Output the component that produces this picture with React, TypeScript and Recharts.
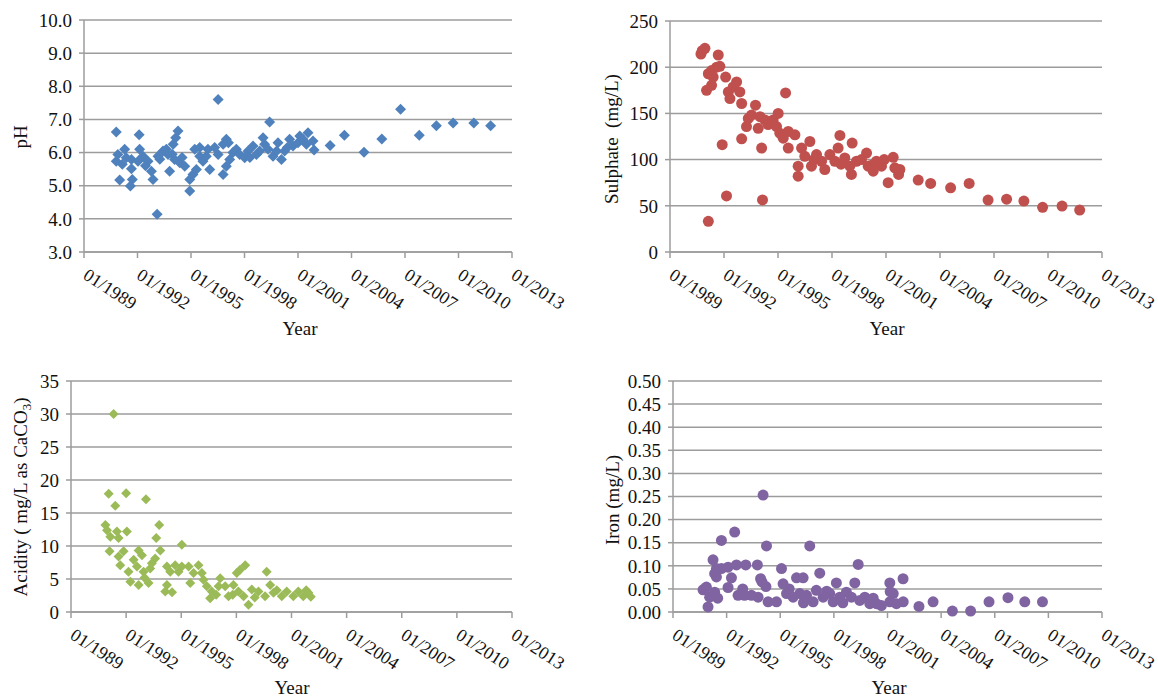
import { ScatterChart, Scatter, XAxis, YAxis, CartesianGrid } from 'recharts';

const yearTicks = [1989, 1992, 1995, 1998, 2001, 2004, 2007, 2010, 2013];

const phTicks = [3, 4, 5, 6, 7, 8, 9, 10];
const sulphateTicks = [0, 50, 100, 150, 200, 250];
const acidityTicks = [0, 5, 10, 15, 20, 25, 30, 35];
const ironTicks = [0, 0.05, 0.1, 0.15, 0.2, 0.25, 0.3, 0.35, 0.4, 0.45, 0.5];

// [year, pH]
const phData = [
  [1990.81, 6.62], [1990.81, 5.74], [1990.9, 5.94], [1991.0, 5.17], [1991.15, 5.65],
  [1991.28, 6.1], [1991.37, 5.84], [1991.66, 5.79], [1991.66, 5.51], [1991.71, 5.19],
  [1991.6, 4.99], [1992.09, 6.54], [1992.12, 6.1], [1992.31, 5.89], [1992.03, 5.74],
  [1992.45, 5.6], [1992.59, 5.74], [1992.78, 5.44], [1992.87, 5.19], [1993.1, 4.14],
  [1993.15, 5.89], [1993.25, 5.8], [1993.43, 6.05], [1993.62, 6.1], [1993.71, 5.94],
  [1993.8, 5.44], [1993.95, 5.95], [1994.0, 6.25], [1994.14, 6.45], [1994.27, 6.65],
  [1994.08, 5.79], [1994.37, 5.69], [1994.5, 5.85], [1994.65, 5.59], [1994.93, 5.19],
  [1994.93, 4.84], [1995.11, 5.34], [1995.3, 5.49], [1995.21, 6.1], [1995.49, 6.15],
  [1995.49, 5.89], [1995.67, 5.74], [1995.86, 5.89], [1995.95, 6.1], [1996.05, 5.49],
  [1996.33, 6.15], [1996.52, 5.94], [1996.52, 7.6], [1996.8, 6.25], [1996.98, 6.4],
  [1997.1, 6.3], [1996.8, 5.34], [1996.98, 5.59], [1997.17, 5.79], [1997.35, 6.0],
  [1997.54, 6.1], [1997.73, 5.94], [1998.01, 5.84], [1998.2, 6.05], [1998.3, 5.85],
  [1998.48, 6.2], [1998.67, 5.94], [1998.85, 6.05], [1999.04, 6.45], [1999.13, 6.25],
  [1999.32, 6.1], [1999.41, 6.92], [1999.6, 5.89], [1999.8, 6.05], [1999.88, 6.3],
  [2000.07, 5.79], [2000.25, 6.05], [2000.4, 6.15], [2000.53, 6.4], [2000.72, 6.2],
  [2001.0, 6.3], [2001.1, 6.5], [2001.28, 6.4], [2001.47, 6.25], [2001.56, 6.6],
  [2001.84, 6.35], [2001.9, 6.08], [2002.8, 6.21], [2003.6, 6.52], [2004.7, 6.01],
  [2005.7, 6.41], [2006.75, 7.31], [2007.8, 6.52], [2008.76, 6.81], [2009.7, 6.89],
  [2010.86, 6.89], [2011.8, 6.81],
];

// [year, sulphate mg/L]
const sulphateData = [
  [1990.72, 214.3], [1990.79, 217.9], [1990.94, 220.4], [1991.68, 213.2], [1991.59, 200],
  [1991.77, 201], [1991.31, 196.4], [1991.13, 192.9], [1991.4, 189.3], [1991.03, 175],
  [1991.31, 180.4], [1992.09, 189.3], [1992.7, 184], [1992.51, 178.6], [1992.24, 173.2],
  [1992.33, 166.1], [1992.88, 173.2], [1992.98, 160.7], [1993.75, 158.9], [1995.42, 172.1],
  [1993.35, 144.6], [1993.53, 148.2], [1993.25, 135.7], [1994.0, 146.4], [1993.9, 133.9],
  [1994.27, 142.9], [1994.45, 138], [1994.73, 142.9], [1995.01, 150], [1994.92, 135.7],
  [1995.1, 128.6], [1995.29, 123.2], [1995.57, 130.4], [1995.94, 126.8], [1995.57, 112.5],
  [1992.98, 122.5], [1991.9, 116.1], [1994.09, 112.5], [1992.14, 60.7], [1994.14, 56.4],
  [1991.13, 33.2], [1996.31, 112.5], [1996.77, 119.6], [1996.12, 92.9], [1996.12, 82.1],
  [1996.49, 103.6], [1996.86, 92.9], [1997.0, 100], [1997.14, 105.4], [1997.42, 98.2],
  [1997.6, 89.3], [1997.88, 105.4], [1998.16, 98.2], [1998.34, 112.5], [1998.44, 126.1],
  [1998.5, 95], [1998.71, 101.8], [1998.99, 92.9], [1999.12, 117.9], [1999.08, 83.9],
  [1999.36, 98.2], [1999.64, 100], [1999.92, 107.1], [2000.01, 92.9], [2000.2, 94],
  [2000.29, 87.5], [2000.47, 98.2], [2000.66, 95.8], [2000.75, 92.9], [2000.9, 100],
  [2001.12, 75], [2001.4, 102.5], [2001.49, 91.1], [2001.77, 89.3], [2001.7, 84],
  [2002.79, 77.8], [2003.48, 74.2], [2004.59, 69.4], [2005.62, 74.2], [2006.67, 56.2],
  [2007.7, 57.2], [2008.66, 55.1], [2009.7, 48.3], [2010.78, 49.7], [2011.76, 45.4],
];

// [year, acidity mg/L as CaCO3]
const acidityData = [
  [1991.32, 30], [1991.05, 17.9], [1992.0, 18.0], [1993.08, 17.1], [1991.41, 16.1],
  [1990.87, 13.2], [1990.96, 12.4], [1991.5, 12.2], [1992.04, 12.2], [1993.8, 13.2],
  [1991.14, 11.4], [1991.59, 11.2], [1993.64, 11.2], [1995.03, 10.2], [1991.1, 9.2],
  [1991.86, 9.2], [1992.68, 9.3], [1992.86, 8.6], [1993.86, 9.3], [1993.58, 8.1],
  [1991.59, 8.4], [1991.68, 7.1], [1992.41, 7.9], [1993.4, 7.4], [1992.13, 6.1],
  [1992.95, 6.1], [1992.59, 6.9], [1992.23, 4.6], [1992.68, 4.1], [1993.0, 5.2],
  [1993.22, 4.4], [1993.31, 6.6], [1994.22, 6.9], [1994.67, 7.1], [1995.03, 6.9],
  [1994.4, 6.1], [1994.85, 6.1], [1994.22, 4.1], [1994.13, 3.1], [1994.5, 3.0],
  [1995.4, 6.9], [1995.94, 7.1], [1995.67, 5.9], [1995.49, 4.4], [1996.12, 5.9],
  [1996.21, 4.9], [1996.39, 3.9], [1996.66, 3.1], [1996.57, 2.1], [1996.9, 2.6],
  [1997.12, 5.1], [1997.03, 3.9], [1997.39, 3.9], [1997.57, 2.4], [1997.8, 2.6],
  [1997.84, 4.1], [1998.02, 5.9], [1998.48, 7.1], [1998.2, 6.4], [1998.11, 3.1],
  [1998.39, 2.4], [1998.66, 1.1], [1998.84, 3.4], [1999.0, 2.2], [1999.2, 3.1],
  [1999.65, 6.1], [1999.84, 4.1], [1999.56, 2.4], [2000.02, 2.9], [2000.2, 3.3],
  [2000.47, 2.4], [2000.74, 3.1], [2001.1, 2.4], [2001.37, 3.1], [2001.64, 2.4],
  [2001.8, 3.3], [2001.92, 2.9], [2002.05, 2.3],
];

// [year, iron mg/L]
const ironData = [
  [1990.68, 0.048], [1990.77, 0.05], [1990.87, 0.054], [1990.96, 0.011], [1991.05, 0.032],
  [1991.24, 0.113], [1991.33, 0.083], [1991.33, 0.043], [1991.43, 0.076], [1991.43, 0.094],
  [1991.5, 0.03], [1991.71, 0.155], [1991.71, 0.094], [1992.08, 0.097], [1992.08, 0.053],
  [1992.27, 0.074], [1992.45, 0.173], [1992.55, 0.102], [1992.64, 0.036], [1992.9, 0.05],
  [1993.0, 0.036], [1993.07, 0.102], [1993.39, 0.036], [1993.72, 0.102], [1993.76, 0.032],
  [1994.04, 0.253], [1994.23, 0.143], [1993.9, 0.072], [1993.98, 0.065], [1994.2, 0.055],
  [1994.32, 0.022], [1994.79, 0.022], [1995.07, 0.094], [1995.16, 0.061], [1995.35, 0.04],
  [1995.5, 0.05], [1995.72, 0.032], [1995.91, 0.074], [1996.09, 0.04], [1996.28, 0.074],
  [1996.3, 0.02], [1996.47, 0.036], [1996.65, 0.143], [1996.84, 0.022], [1997.02, 0.047],
  [1997.21, 0.084], [1997.4, 0.032], [1997.6, 0.045], [1997.77, 0.04], [1997.96, 0.022],
  [1998.14, 0.063], [1998.33, 0.032], [1998.5, 0.02], [1998.7, 0.043], [1998.98, 0.032],
  [1999.17, 0.063], [1999.36, 0.103], [1999.45, 0.025], [1999.73, 0.032], [2000.01, 0.018],
  [2000.2, 0.03], [2000.38, 0.018], [2000.66, 0.014], [2001.13, 0.063], [2001.15, 0.044],
  [2001.13, 0.022], [2001.32, 0.04], [2001.5, 0.018], [2001.88, 0.022], [2001.87, 0.072],
  [2002.76, 0.012], [2003.55, 0.022], [2004.63, 0.002], [2005.65, 0.002], [2006.68, 0.022],
  [2007.74, 0.031], [2008.68, 0.022], [2009.67, 0.022],
];

const FONT = '"Liberation Serif", "Times New Roman", serif';
const GRID = '#9c9c9c';

const toPoints = (rows: number[][]) => rows.map(([x, y]) => ({ x, y }));

function YearTick({ x, y, payload }: any) {
  const ax = x - 2;
  const ay = y + 18;
  return (
    <text x={ax} y={ay} transform={`rotate(33, ${ax}, ${ay})`} textAnchor="start" fontSize={18} fill="#111" fontFamily={FONT}>
      {`01/${payload.value}`}
    </text>
  );
}

const diamond = (color: string, r: number) => (p: any) =>
  <path d={`M${p.cx},${p.cy - r}L${p.cx + r},${p.cy}L${p.cx},${p.cy + r}L${p.cx - r},${p.cy}Z`} fill={color} />;

const dot = (color: string, r: number) => (p: any) =>
  <circle cx={p.cx} cy={p.cy} r={r} fill={color} />;

function Panel({ data, shape, left, top, width, height, plot, domain, ticks, fmt }: any) {
  const [x0, y0, x1, y1] = plot;
  return (
    <div style={{ position: 'absolute', left, top }}>
      <ScatterChart
        width={width}
        height={height}
        margin={{ top: y0 - top, right: left + width - x1, bottom: 0, left: 0 }}
      >
        <CartesianGrid vertical={false} stroke={GRID} strokeWidth={1.5} />
        <XAxis
          type="number"
          dataKey="x"
          domain={[1989, 2013]}
          ticks={yearTicks}
          interval={0}
          height={top + height - y1}
          tick={<YearTick />}
          tickSize={6}
          tickMargin={2}
          axisLine={{ stroke: GRID, strokeWidth: 1.5 }}
          tickLine={{ stroke: GRID, strokeWidth: 1.5 }}
        />
        <YAxis
          type="number"
          dataKey="y"
          domain={domain}
          ticks={ticks}
          interval={0}
          width={x0 - left}
          tickFormatter={fmt}
          tickSize={5}
          tickMargin={7}
          tick={{ fontSize: 19, fill: '#111', fontFamily: FONT }}
          axisLine={{ stroke: GRID, strokeWidth: 1.5 }}
          tickLine={{ stroke: GRID, strokeWidth: 1.5 }}
        />
        <Scatter data={toPoints(data)} shape={shape} isAnimationActive={false} />
      </ScatterChart>
    </div>
  );
}

function Title({ x, y, rotate, children }: any) {
  return (
    <div
      style={{
        position: 'absolute',
        left: x,
        top: y,
        transform: `translate(-50%, -50%)${rotate ? ' rotate(-90deg)' : ''}`,
        whiteSpace: 'nowrap',
        fontSize: 19,
        color: '#111',
        lineHeight: 1,
      }}
    >
      {children}
    </div>
  );
}

export default function App() {
  return (
    <div style={{ position: 'absolute', left: 0, top: 0, width: 1158, height: 698, background: '#fff', fontFamily: FONT, overflow: 'hidden' }}>
      <Panel
        data={phData}
        shape={diamond('#4F81BD', 5.5)}
        left={0} top={0} width={578} height={340}
        plot={[84, 20, 512, 252]}
        domain={[3, 10]} ticks={phTicks}
        fmt={(v: number) => v.toFixed(1)}
      />
      <Panel
        data={sulphateData}
        shape={dot('#C0504D', 5.5)}
        left={580} top={0} width={578} height={340}
        plot={[670, 21, 1102, 252]}
        domain={[0, 250]} ticks={sulphateTicks}
        fmt={(v: number) => String(v)}
      />
      <Panel
        data={acidityData}
        shape={diamond('#9BBB59', 5)}
        left={0} top={360} width={578} height={338}
        plot={[71, 381, 512, 612]}
        domain={[0, 35]} ticks={acidityTicks}
        fmt={(v: number) => String(v)}
      />
      <Panel
        data={ironData}
        shape={dot('#8064A2', 5.5)}
        left={580} top={360} width={578} height={338}
        plot={[673, 381, 1102, 612]}
        domain={[0, 0.5]} ticks={ironTicks}
        fmt={(v: number) => v.toFixed(2)}
      />

      <Title x={20} y={137} rotate>pH</Title>
      <Title x={611} y={139} rotate>Sulphate&nbsp;&nbsp;(mg/L)</Title>
      <Title x={22} y={497} rotate>Acidity ( mg/L as CaCO<sub style={{ fontSize: 13 }}>3</sub>)</Title>
      <Title x={612} y={500} rotate>Iron (mg/L)</Title>

      <Title x={300} y={328}>Year</Title>
      <Title x={887} y={328}>Year</Title>
      <Title x={292} y={687}>Year</Title>
      <Title x={889} y={687}>Year</Title>
    </div>
  );
}
